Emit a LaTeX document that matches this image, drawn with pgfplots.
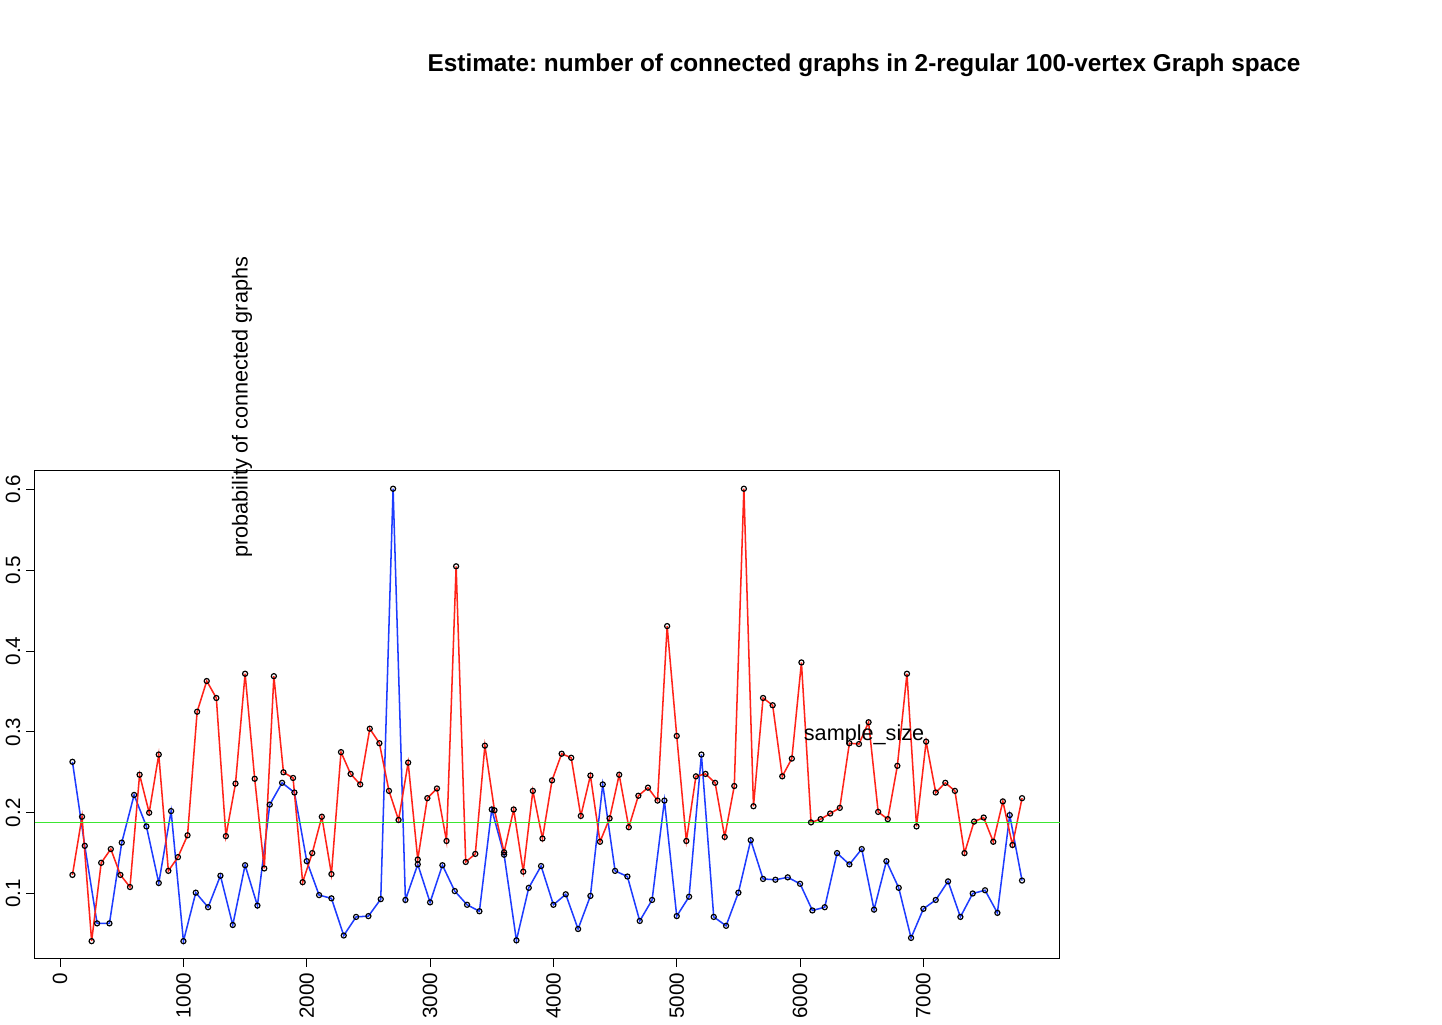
\documentclass[border=0pt]{standalone}
\usepackage{pgfplots}
\pgfplotsset{compat=1.18}
\usepackage{fontspec}
\setmainfont{Liberation Sans}
\definecolor{rblue}{RGB}{30,60,255}
\definecolor{rred}{RGB}{255,35,25}
\definecolor{rgreen}{RGB}{60,230,50}
\begin{document}
\frenchspacing
\begin{tikzpicture}[x=1bp,y=1bp]
\path (0,0) rectangle (721,460);
\begin{axis}[at={(682.5,383.5)}, anchor=north east, scale only axis,
  width=604bp, height=287bp,
  xmin=-206, xmax=8107, ymin=0.020, ymax=0.623,
  xtick={0,1000,...,7000}, ytick={0.1,0.2,0.3,0.4,0.5,0.6},
  yticklabels={0.1,0.2,0.3,0.4,0.5,0.6},
  xticklabel style={rotate=90, anchor=east, font=\fontsize{12.2}{12.2}\selectfont},
  yticklabel style={rotate=90, anchor=south, font=\fontsize{12.2}{12.2}\selectfont},
  /pgf/number format/assume math mode=true,
  /pgf/number format/1000 sep={},
  scaled x ticks=false,
  tick align=outside, major tick length=5bp,
  xtick pos=bottom, ytick pos=left,
  axis line style={line width=0.6bp}, every tick/.style={black,line width=0.6bp},
  clip=false]
\addplot[rblue, line width=0.9bp, mark=o, mark size=1.5bp, mark options={black,line width=0.7bp}] coordinates {
(100,0.263)(200,0.159)(300,0.063)(400,0.063)(500,0.163)(600,0.222)(700,0.183)(800,0.113)(900,0.202)(1000,0.041)
(1100,0.101)(1200,0.083)(1300,0.122)(1400,0.061)(1500,0.135)(1600,0.085)(1700,0.210)(1800,0.237)(1900,0.225)(2000,0.140)
(2100,0.098)(2200,0.094)(2300,0.048)(2400,0.071)(2500,0.072)(2600,0.093)(2700,0.601)(2800,0.092)(2900,0.136)(3000,0.089)
(3100,0.135)(3200,0.103)(3300,0.086)(3400,0.078)(3500,0.204)(3600,0.148)(3700,0.042)(3800,0.107)(3900,0.134)(4000,0.086)
(4100,0.099)(4200,0.056)(4300,0.097)(4400,0.235)(4500,0.128)(4600,0.121)(4700,0.066)(4800,0.092)(4900,0.215)(5000,0.072)
(5100,0.096)(5200,0.272)(5300,0.071)(5400,0.060)(5500,0.101)(5600,0.166)(5700,0.118)(5800,0.117)(5900,0.120)(6000,0.112)
(6100,0.079)(6200,0.083)(6300,0.150)(6400,0.136)(6500,0.155)(6600,0.080)(6700,0.140)(6800,0.107)(6900,0.045)(7000,0.081)
(7100,0.092)(7200,0.115)(7300,0.071)(7400,0.100)(7500,0.104)(7600,0.076)(7700,0.197)(7800,0.116)};
\addplot[rred, line width=0.9bp, mark=o, mark size=1.5bp, mark options={black,line width=0.7bp}] coordinates {
(100.0,0.123)(177.8,0.195)(255.6,0.041)(333.3,0.138)(411.1,0.155)(488.9,0.123)(566.7,0.108)(644.4,0.247)(722.2,0.200)(800.0,0.272)
(877.8,0.128)(955.6,0.145)(1033.3,0.172)(1111.1,0.325)(1188.9,0.363)(1266.7,0.342)(1344.4,0.171)(1422.2,0.236)(1500.0,0.372)(1577.8,0.242)
(1655.6,0.131)(1733.3,0.369)(1811.1,0.250)(1888.9,0.243)(1966.7,0.114)(2044.4,0.150)(2122.2,0.195)(2200.0,0.124)(2277.8,0.275)(2355.6,0.248)
(2433.3,0.235)(2511.1,0.304)(2588.9,0.286)(2666.7,0.227)(2744.4,0.191)(2822.2,0.262)(2900.0,0.142)(2977.8,0.218)(3055.6,0.230)(3133.3,0.165)
(3211.1,0.505)(3288.9,0.139)(3366.7,0.149)(3444.4,0.283)(3522.2,0.203)(3600.0,0.151)(3677.8,0.204)(3755.6,0.127)(3833.3,0.227)(3911.1,0.168)
(3988.9,0.240)(4066.7,0.273)(4144.4,0.268)(4222.2,0.196)(4300.0,0.246)(4377.8,0.164)(4455.6,0.193)(4533.3,0.247)(4611.1,0.182)(4688.9,0.221)
(4766.7,0.231)(4844.4,0.215)(4922.2,0.431)(5000.0,0.295)(5077.8,0.165)(5155.6,0.245)(5233.3,0.248)(5311.1,0.237)(5388.9,0.170)(5466.7,0.233)
(5544.4,0.601)(5622.2,0.208)(5700.0,0.342)(5777.8,0.333)(5855.6,0.245)(5933.3,0.267)(6011.1,0.386)(6088.9,0.188)(6166.7,0.192)(6244.4,0.199)
(6322.2,0.206)(6400.0,0.286)(6477.8,0.285)(6555.6,0.312)(6633.3,0.201)(6711.1,0.192)(6788.9,0.258)(6866.7,0.372)(6944.4,0.183)(7022.2,0.288)
(7100.0,0.225)(7177.8,0.237)(7255.6,0.227)(7333.3,0.150)(7411.1,0.189)(7488.9,0.194)(7566.7,0.164)(7644.4,0.214)(7722.2,0.160)(7800.0,0.218)};
\addplot[rgreen, line width=0.7bp, forget plot] coordinates {(-206,0.188)(8107,0.188)};
\end{axis}
\node[font=\bfseries\fontsize{14.4}{14.4}\selectfont] at (380.5,421.5) {Estimate: number of connected graphs in 2-regular 100-vertex Graph space};
\node[font=\fontsize{12.8}{12.8}\selectfont] at (380.5,27) {sample\_size};
\node[font=\fontsize{12.8}{12.8}\selectfont, rotate=90] at (14,220) {probability of connected graphs};
\end{tikzpicture}
\end{document}
